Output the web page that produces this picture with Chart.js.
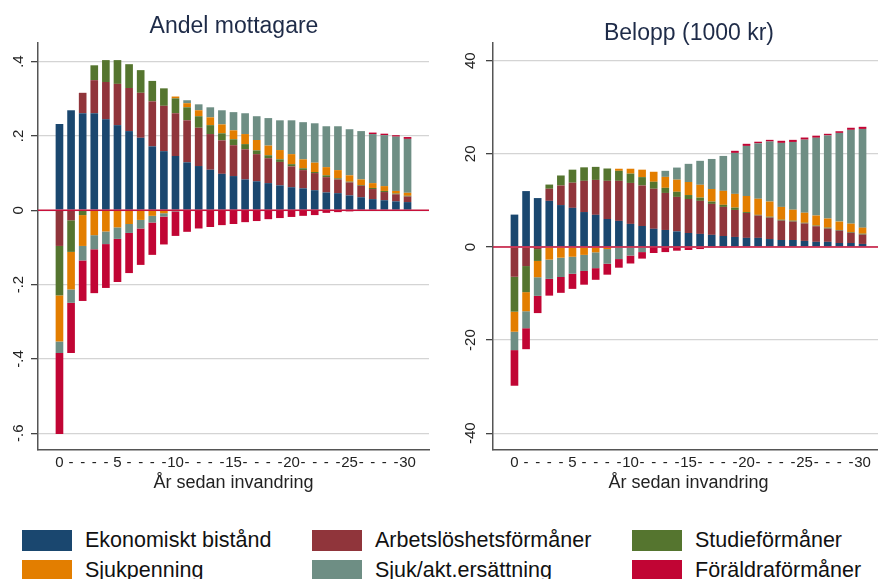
<!DOCTYPE html>
<html>
<head>
<meta charset="utf-8">
<script src="https://cdn.jsdelivr.net/npm/chart.js@4.4.1/dist/chart.umd.min.js"></script>
<style>
  body { margin: 0; background: #fff; width: 878px; height: 579px; overflow: hidden; position: relative; font-family: "Liberation Sans", Arial, sans-serif; }
  canvas { position: absolute; top: 0; }
  #c1 { left: 0; }
  #c2 { left: 455px; }
  .title { position: absolute; font-size: 23px; color: #1e2b48; transform: translate(-50%, -50%); white-space: nowrap; }
  .lg-box { position: absolute; width: 50px; height: 21px; }
  .lg-txt { position: absolute; font-size: 21.5px; color: #111; transform: translateY(-50%); white-space: nowrap; }
</style>
</head>
<body>
<canvas id="c1" width="455" height="510"></canvas>
<canvas id="c2" width="455" height="510"></canvas>
<div class="title" style="left:234px; top:25px;">Andel mottagare</div>
<div class="title" style="left:689px; top:32px;">Belopp (1000 kr)</div>
<div id="legend"></div>
<script>
// years since immigration
const years = [0,1,2,3,4,5,6,7,8,9,10,11,12,13,14,15,16,17,18,19,20,21,22,23,24,25,26,27,28,29,30];

const seriesNames = ["Ekonomiskt bistånd", "Arbetslöshetsförmåner", "Studieförmåner", "Sjukpenning", "Sjuk/akt.ersättning", "Föräldraförmåner"];
const seriesColors = ["#1a476f", "#90353b", "#55752f", "#e37e00", "#6e8e84", "#c10534"];

// Andel mottagare, positive parts
const andelEkonPos   = [.232,.269,.261,.261,.245,.229,.213,.195,.172,.159,.146,.129,.119,.109,.098,.092,.083,.078,.073,.067,.062,.059,.054,.048,.046,.040,.035,.030,.027,.024,.022];
const andelArbPos    = [0,0,.055,.089,.100,.111,.116,.121,.121,.122,.115,.113,.103,.096,.090,.083,.081,.073,.067,.063,.056,.049,.046,.041,.037,.035,.031,.027,.022,.019,.015];
const andelStudPos   = [0,0,0,.040,.059,.064,.064,.061,.055,.047,.040,.035,.031,.024,.019,.016,.014,.010,.008,.007,.006,.005,.003,.005,.003,.002,.002,.003,.003,.002,.002];
const andelSjukpPos  = [0,0,0,0,0,0,0,0,0,0,.005,.011,.016,.021,.024,.024,.027,.028,.026,.025,.027,.024,.025,.022,.022,.017,.015,.013,.013,.007,.008];
const andelSjukaPos  = [0,0,0,0,0,0,0,0,0,0,0,.008,.016,.027,.038,.049,.056,.064,.074,.080,.091,.100,.106,.110,.118,.124,.130,.132,.137,.146,.145];
const andelForPos    = [0,0,0,0,0,0,0,0,0,0,0,0,0,0,0,0,0,0,0,0,0,0,0,0,0,0,0,.004,.004,.004,.005];
// Andel mottagare, negative parts
const andelArbNeg    = [-.096,-.027,0,0,0,0,0,0,0,0,0,0,0,0,0,0,0,0,0,0,0,0,0,0,0,0,0,0,0,0,0];
const andelStudNeg   = [-.133,-.085,-.013,0,0,0,0,0,0,0,0,0,0,0,0,0,0,0,0,0,0,0,0,0,0,0,0,0,0,0,0];
const andelSjukpNeg  = [-.124,-.101,-.083,-.067,-.057,-.046,-.037,-.026,-.015,-.008,0,0,0,0,0,0,0,0,0,0,0,0,0,0,0,0,0,0,0,0,0];
const andelSjukaNeg  = [-.031,-.036,-.039,-.038,-.034,-.031,-.024,-.023,-.018,-.009,-.003,0,0,0,0,0,0,0,0,0,0,0,0,0,0,0,0,0,0,0,0];
const andelForNeg    = [-.218,-.135,-.109,-.118,-.118,-.116,-.108,-.098,-.087,-.075,-.066,-.058,-.049,-.045,-.040,-.037,-.032,-.029,-.024,-.021,-.018,-.015,-.013,-.007,-.005,-.003,-.002,0,0,0,0];

// Belopp (1000 kr), positive parts
const beloppEkonPos  = [6.95,12.0,10.5,9.9,9.0,8.4,7.5,6.9,6.0,5.6,4.95,4.5,3.9,3.65,3.35,3.0,2.8,2.6,2.35,2.15,1.95,1.95,1.7,1.5,1.5,1.3,1.1,1.1,0.85,0.85,0.65];
const beloppArbPos   = [0,0,0,2.6,4.2,5.4,6.7,7.5,8.2,8.6,8.8,8.7,8.6,7.95,7.4,7.3,7.1,6.65,6.25,5.8,5.35,4.8,4.6,4.15,3.95,3.75,3.35,2.85,2.65,2.2,2.0];
const beloppStudPos  = [0,0,0,0.9,2.15,2.8,2.9,2.8,2.65,2.15,2.0,1.8,1.5,1.1,1.1,0.85,0.7,0.5,0.45,0.5,0.2,0.15,0.2,0.2,0.2,0.15,0.15,0.2,0.15,0.15,0.2];
const beloppSjukpPos = [0,0,0,0,0,0,0,0,0,0.45,1.05,1.6,2.15,2.35,2.6,2.8,2.75,2.7,3.0,2.95,3.45,3.45,3.25,2.75,2.35,2.15,2.15,1.95,1.8,1.8,1.3];
const beloppSjukaPos = [0,0,0,0,0,0,0,0,0,0,0,0,0,1.3,2.6,3.9,5.15,6.45,7.5,8.8,10.75,11.9,12.9,13.75,14.55,15.7,16.7,17.85,19.05,20.15,21.2];
const beloppForPos   = [0,0,0,0,0,0,0,0,0,0,0,0,0,0,0,0,0,0,0,0.45,0.45,0.35,0.35,0.45,0.45,0.45,0.45,0.35,0.35,0.45,0.45];
// Belopp (1000 kr), negative parts
const beloppArbNeg   = [-6.4,-4.1,-0.45,0,0,0,0,0,0,0,0,0,0,0,0,0,0,0,0,0,0,0,0,0,0,0,0,0,0,0,0];
const beloppStudNeg  = [-7.5,-5.6,-2.55,0,0,0,0,0,0,0,0,0,0,0,0,0,0,0,0,0,0,0,0,0,0,0,0,0,0,0,0];
const beloppSjukpNeg = [-4.3,-4.1,-3.5,-2.7,-2.3,-2.1,-1.7,-1.15,-0.45,0,0,0,0,0,0,0,0,0,0,0,0,0,0,0,0,0,0,0,0,0,0];
const beloppSjukaNeg = [-3.95,-3.65,-4.0,-4.15,-4.15,-3.65,-3.45,-3.4,-3.15,-2.6,-1.85,-1.1,-0.1,0,0,0,0,0,0,0,0,0,0,0,0,0,0,0,0,0,0];
const beloppForNeg   = [-7.65,-4.5,-3.7,-3.6,-3.4,-3.25,-2.95,-2.5,-2.35,-1.85,-1.7,-1.4,-1.2,-1.1,-0.8,-0.65,-0.45,-0.2,-0.2,0,0,0,0,0,0,0,0,0,0,0,0];

const andelTicks = [-0.6, -0.4, -0.2, 0, 0.2, 0.4];
const beloppTicks = [-40, -20, 0, 20, 40];

function toPoints(arr) {
  return arr.map((v, i) => ({ x: years[i], y: v }));
}

function makeDatasets(pos, neg) {
  const ds = [];
  pos.forEach((arr, k) => {
    ds.push({ label: seriesNames[k], data: toPoints(arr), backgroundColor: seriesColors[k], borderWidth: 0 });
  });
  // negative parts start from Arbetslöshetsförmåner
  neg.forEach((arr, k) => {
    ds.push({ label: seriesNames[k + 1], data: toPoints(arr), backgroundColor: seriesColors[k + 1], borderWidth: 0 });
  });
  return ds;
}

const zeroLine = {
  id: "zeroLine",
  afterDatasetsDraw(chart) {
    const { ctx, chartArea, scales } = chart;
    const y = scales.y.getPixelForValue(0);
    ctx.save();
    ctx.strokeStyle = "#c8103a";
    ctx.lineWidth = 1.6;
    ctx.beginPath();
    ctx.moveTo(chartArea.left, y);
    ctx.lineTo(chartArea.right, y);
    ctx.stroke();
    ctx.restore();
  }
};

function makeChart(id, datasets, yMin, yMax, yTicks, fmt, yPad) {
  return new Chart(document.getElementById(id), {
    type: "bar",
    data: { datasets: datasets },
    plugins: [zeroLine],
    options: {
      responsive: false,
      animation: false,
      layout: { padding: { left: 0, right: 26, top: 43, bottom: 0 } },
      plugins: { legend: { display: false }, tooltip: { enabled: false } },
      datasets: { bar: { barPercentage: 0.66, categoryPercentage: 1.0 } },
      scales: {
        x: {
          type: "linear",
          stacked: true,
          offset: false,
          min: -1.85,
          max: 31.85,
          afterBuildTicks: (scale) => { scale.ticks = years.map(v => ({ value: v })); },
          afterFit: (scale) => { scale.height = 60; },
          grid: { display: false, drawTicks: false, offset: false },
          border: { display: true, color: "#555", width: 1.5 },
          ticks: {
            autoSkip: false, maxRotation: 0, minRotation: 0, padding: 4,
            color: "#222", font: { family: "'Liberation Sans', Arial", size: 15 },
            callback: (v) => (v % 5 === 0 ? String(v) : "-")
          },
          title: {
            display: true, text: "År sedan invandring", color: "#222",
            font: { family: "'Liberation Sans', Arial", size: 18 },
            padding: { top: 0, bottom: 16 }
          }
        },
        y: {
          stacked: true,
          min: yMin,
          max: yMax,
          afterBuildTicks: (scale) => { scale.ticks = yTicks.map(v => ({ value: v })); },
          afterFit: (scale) => { scale.width = 38; },
          grid: { color: "#d4d4d4", lineWidth: 1.3, tickColor: "#444", tickLength: 7 },
          border: { display: true, color: "#555", width: 1.5 },
          ticks: {
            minRotation: 90, maxRotation: 90, crossAlign: "center", padding: yPad,
            color: "#222", font: { family: "'Liberation Sans', Arial", size: 15 },
            callback: fmt
          }
        }
      }
    }
  });
}

const fmtAndel = (v) => {
  if (v === 0) return "0";
  const s = Math.abs(v).toFixed(1).replace(/^0/, "");
  return (v < 0 ? "-" : "") + s;
};
const fmtBelopp = (v) => String(v);

makeChart("c1",
  makeDatasets([andelEkonPos, andelArbPos, andelStudPos, andelSjukpPos, andelSjukaPos, andelForPos],
               [andelArbNeg, andelStudNeg, andelSjukpNeg, andelSjukaNeg, andelForNeg]),
  -0.645, 0.45, andelTicks, fmtAndel, 3);

makeChart("c2",
  makeDatasets([beloppEkonPos, beloppArbPos, beloppStudPos, beloppSjukpPos, beloppSjukaPos, beloppForPos],
               [beloppArbNeg, beloppStudNeg, beloppSjukpNeg, beloppSjukaNeg, beloppForNeg]),
  -43.6, 43.8, beloppTicks, fmtBelopp, 4.5);

// legend below both panels
const legendPos = [
  { bx: 22, tx: 85, by: 530 }, { bx: 312, tx: 375, by: 530 }, { bx: 632, tx: 695, by: 530 },
  { bx: 22, tx: 85, by: 560 }, { bx: 312, tx: 375, by: 560 }, { bx: 632, tx: 695, by: 560 }
];
const legend = document.getElementById("legend");
seriesNames.forEach((name, i) => {
  const p = legendPos[i];
  const box = document.createElement("div");
  box.className = "lg-box";
  box.style.left = p.bx + "px";
  box.style.top = p.by + "px";
  box.style.background = seriesColors[i];
  legend.appendChild(box);
  const t = document.createElement("div");
  t.className = "lg-txt";
  t.style.left = p.tx + "px";
  t.style.top = (p.by + 10) + "px";
  t.textContent = name;
  legend.appendChild(t);
});
</script>
</body>
</html>
